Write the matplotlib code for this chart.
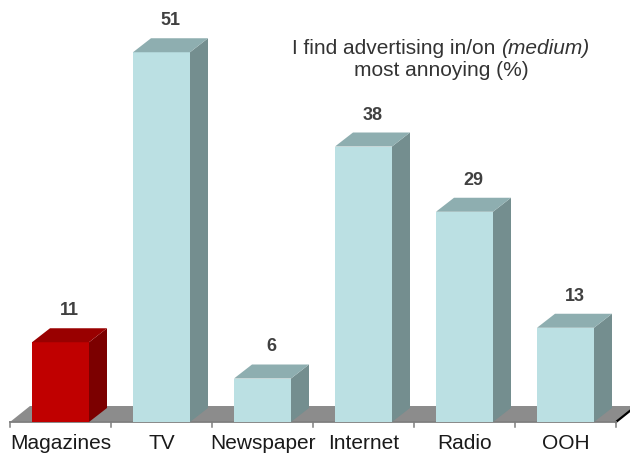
import matplotlib
matplotlib.use("Agg")
import matplotlib.pyplot as plt
from matplotlib.patches import Polygon

plt.rcParams['font.family'] = ['Liberation Sans', 'DejaVu Sans']

media = ['Magazines', 'TV', 'Newspaper', 'Internet', 'Radio', 'OOH']
annoying = [11, 51, 6, 38, 29, 13]
highlight = ['Magazines']

# face colours: front, side, top
cyan = ('#bbe0e3', '#748e8f', '#8eaeb0')
red = ('#c00000', '#7c0000', '#990000')

W, H = 630, 456
PX_PER_UNIT = 7.25
SLOT_PX = 101

fig = plt.figure(figsize=(W / 100, H / 100), dpi=100)
ax = fig.add_axes([10 / W, 33 / H, 6 * SLOT_PX / W, 423 / H])
ax.set_xlim(-0.5, 5.5)
ax.set_ylim(0, 423 / PX_PER_UNIT)
ax.axis('off')

# depth offsets of the 3d look, in data units
dx = 18 / SLOT_PX
dy = 14 / PX_PER_UNIT
fdx = 20 / SLOT_PX
fdy = 16 / PX_PER_UNIT
bw = 57 / SLOT_PX

# floor
n = len(media)
floor = Polygon([(-0.5, 0), (n - 0.5, 0), (n - 0.5 + fdx, fdy), (-0.5 + fdx, fdy)],
                closed=True, fc='#8c8c8c', ec='none', clip_on=False, zorder=1)
ax.add_patch(floor)
ax.plot([n - 0.5, n - 0.5 + fdx * 0.75], [0, fdy * 0.75], color='black', lw=1.6,
        clip_on=False, zorder=2)
ax.plot([-0.5, n - 0.5], [0, 0], color='#7f7f7f', lw=1.3, clip_on=False, zorder=2)
for i in range(n + 1):
    ax.plot([i - 0.5, i - 0.5], [0, -5 / PX_PER_UNIT], color='#7f7f7f', lw=1.1,
            clip_on=False, zorder=2)

for i, (name, v) in enumerate(zip(media, annoying)):
    front, side, top = red if name in highlight else cyan
    x0, x1 = i - bw / 2, i + bw / 2
    ax.add_patch(Polygon([(x0, 0), (x1, 0), (x1, v), (x0, v)], fc=front, ec='none', zorder=3))
    ax.add_patch(Polygon([(x1, 0), (x1 + dx, dy), (x1 + dx, v + dy), (x1, v)],
                         fc=side, ec='none', zorder=3))
    ax.add_patch(Polygon([(x0, v), (x1, v), (x1 + dx, v + dy), (x0 + dx, v + dy)],
                         fc=top, ec='none', zorder=3))
    ax.text(i + dx / 2, v + dy + 10 / PX_PER_UNIT, str(v), ha='center', va='bottom',
            fontsize=13, fontweight='bold', color='#404040', clip_on=False)
    ax.text(i, -21 / PX_PER_UNIT, name, ha='center', va='center', fontsize=15,
            color='#1a1a1a', clip_on=False)

# two-line title, with the medium placeholder in italics
title_x = (441 - 10) / SLOT_PX - 0.5
line1_y = (423 - 48) / PX_PER_UNIT
line2_y = (423 - 71) / PX_PER_UNIT
tkw = dict(fontsize=15, color='#333333', va='center')
part_a = ax.text(0, line1_y, 'I find advertising in/on ', ha='left', **tkw)
part_b = ax.text(0, line1_y, '(medium)', ha='left', style='italic', **tkw)
ax.text(title_x, line2_y, 'most annoying (%)', ha='center', **tkw)

fig.canvas.draw()
r = fig.canvas.get_renderer()
wa = part_a.get_window_extent(r).width
wb = part_b.get_window_extent(r).width
px_to_x = 1 / SLOT_PX
left = title_x - (wa + wb) / 2 * px_to_x
part_a.set_x(left)
part_b.set_x(left + wa * px_to_x)

fig.savefig('out.png', dpi=100)
